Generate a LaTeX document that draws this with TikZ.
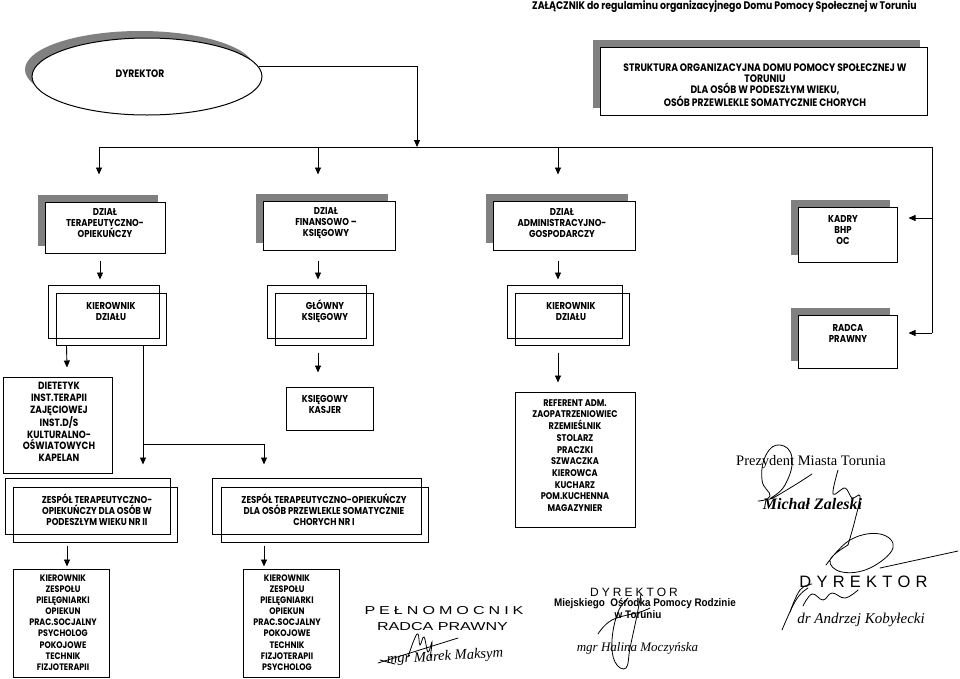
\documentclass[tikz,border=0pt]{standalone}
\usepackage{fontspec}
\setmainfont{Liberation Serif}
\newfontfamily\gothic{Poppins}[FakeStretch=0.85]
\newfontfamily\arial{Liberation Sans}
\newfontfamily\arialwide{Liberation Sans}[FakeStretch=1.4]
\newfontfamily\arialnarrow{Liberation Sans}[FakeStretch=0.9]
\usetikzlibrary{arrows.meta,shadows,calc,shapes.geometric}
\tikzset{
  bx/.style={draw, line width=1pt, inner sep=0pt, fill=white},
  shbox/.style={bx, drop shadow={shadow xshift=-7pt, shadow yshift=7pt, fill=black!50, opacity=1}},
  thinbx/.style={draw, line width=0.6pt},
  txt/.style={align=center, inner sep=0pt, font=\gothic\bfseries\fontsize{10}{11}\selectfont},
  lsttxt/.style={align=center, inner sep=0pt, font=\gothic\bfseries\fontsize{10.5}{11.7}\selectfont},
  reftxt/.style={align=center, inner sep=0pt, font=\gothic\bfseries\fontsize{9.7}{11.7}\selectfont},
  smalltxt/.style={align=center, inner sep=0pt, font=\gothic\bfseries\fontsize{9.4}{11.1}\selectfont},
  ln/.style={line width=0.9pt},
  arr/.style={ln, -{Triangle[length=7pt,width=6pt]}},
  sig/.style={line width=0.8pt, line cap=round},
}
\newcommand{\sps}{\hspace{5.2pt}}
\begin{document}
\begin{tikzpicture}[x=1pt,y=-1pt]
\useasboundingbox (0,0) rectangle (960,678);
% header
\node[inner sep=0pt, font=\gothic\bfseries\fontsize{11}{12}\selectfont] (hdr) at (724.5,7) {ZAŁĄCZNIK do regulaminu organizacyjnego Domu Pomocy Społecznej w Toruniu};
% director ellipse
\node[ellipse, draw, line width=1pt, fill=white, minimum width=230pt, minimum height=77pt, inner sep=0pt,
      drop shadow={shadow xshift=-7pt, shadow yshift=7pt, fill=black!50, opacity=1}] (dyr) at (147,76.5) {};
\node[txt, font=\gothic\bfseries\fontsize{10.8}{12}\selectfont] (dyrT) at (140,74) {DYREKTOR};
% title box
\node[shbox, minimum width=327pt, minimum height=68pt] (tb) at (763.5,81) {};
\node[txt, font=\gothic\bfseries\fontsize{10.8}{11}\selectfont] (tbT) at (765,85.5) {STRUKTURA ORGANIZACYJNA DOMU POMOCY SPOŁECZNEJ W\\TORUNIU\\DLA OSÓB W PODESZŁYM WIEKU,\\OSÓB PRZEWLEKLE SOMATYCZNIE CHORYCH};
% departments
\node[shbox, minimum width=120pt, minimum height=51pt] (d1) at (105,227.5) {};
\node[txt] (d1T) at (105,223.5) {DZIAŁ\\TERAPEUTYCZNO-\\OPIEKUŃCZY};
\node[shbox, minimum width=132pt, minimum height=49pt] (d2) at (329,225.5) {};
\node[txt] (d2T) at (326,223.5) {DZIAŁ\\FINANSOWO –\\KSIĘGOWY};
\node[shbox, minimum width=142pt, minimum height=49pt] (d3) at (564,225.5) {};
\node[txt] (d3T) at (562,223.5) {DZIAŁ\\ADMINISTRACYJNO-\\GOSPODARCZY};
\node[shbox, minimum width=99pt, minimum height=55pt] (kadry) at (847.5,234.5) {};
\node[txt] (kadryT) at (843,230) {KADRY\\BHP\\OC};
\node[shbox, minimum width=99pt, minimum height=53pt] (radca) at (847.5,341.5) {};
\node[txt] (radcaT) at (848,333) {RADCA\\PRAWNY};
% kierownik double boxes
\node[bx, fill=none, minimum width=110pt, minimum height=52pt] (k1) at (111,319) {};
\draw[thinbx] ($(k1.south west)+(-7,-7)$) rectangle ($(k1.north east)+(-7,-7)$);
\node[txt] (k1T) at (111,311) {KIEROWNIK\\DZIAŁU};
\node[bx, fill=none, minimum width=98pt, minimum height=52pt] (gk) at (324,319) {};
\draw[thinbx] ($(gk.south west)+(-7,-7)$) rectangle ($(gk.north east)+(-7,-7)$);
\node[txt] (gkT) at (325,311) {GŁÓWNY\\KSIĘGOWY};
\node[bx, fill=none, minimum width=114pt, minimum height=52pt] (k3) at (572,319) {};
\draw[thinbx] ($(k3.south west)+(-7,-7)$) rectangle ($(k3.north east)+(-7,-7)$);
\node[txt] (k3T) at (571,311) {KIEROWNIK\\DZIAŁU};
% lists
\node[bx, minimum width=109pt, minimum height=96pt] (diet) at (57.5,425) {};
\node[lsttxt] (dietT) at (59,422) {DIETETYK\\INST.TERAPII\\ZAJĘCIOWEJ\\INST.D/S\\KULTURALNO-\\OŚWIATOWYCH\\KAPELAN};
\node[bx, minimum width=87pt, minimum height=43pt] (kas) at (329.5,408.5) {};
\node[txt] (kasT) at (325,404) {KSIĘGOWY\\KASJER};
\node[bx, minimum width=120pt, minimum height=135pt] (ref) at (575,459.5) {};
\node[reftxt] (refT) at (575,455.5) {REFERENT ADM.\\ZAOPATRZENIOWIEC\\RZEMIEŚLNIK\\STOLARZ\\PRACZKI\\SZWACZKA\\KIEROWCA\\KUCHARZ\\POM.KUCHENNA\\MAGAZYNIER};
% zespoly
\node[bx, fill=none, minimum width=164pt, minimum height=55pt] (z2) at (95,514.5) {};
\draw[thinbx] ($(z2.south west)+(-7,-8)$) rectangle ($(z2.north east)+(-7,-8)$);
\node[txt] (z2T) at (97,509.5) {ZESPÓŁ TERAPEUTYCZNO-\\OPIEKUŃCZY DLA OSÓB W\\PODESZŁYM WIEKU NR II};
\node[bx, fill=none, minimum width=207pt, minimum height=55pt] (z1) at (324.5,514.5) {};
\draw[thinbx] ($(z1.south west)+(-8,-8)$) rectangle ($(z1.north east)+(-7,-8)$);
\node[txt] (z1T) at (324,509.5) {ZESPÓŁ TERAPEUTYCZNO-OPIEKUŃCZY\\DLA OSÓB PRZEWLEKLE SOMATYCZNIE\\CHORYCH NR I};
% bottom lists
\node[bx, minimum width=96pt, minimum height=108pt] (l2) at (61,623) {};
\node[smalltxt] (l2T) at (63,622.5) {KIEROWNIK\\ZESPOŁU\\PIELĘGNIARKI\\OPIEKUN\\PRAC.SOCJALNY\\PSYCHOLOG\\POKOJOWE\\TECHNIK\\FIZJOTERAPII};
\node[bx, minimum width=96pt, minimum height=108pt] (l1) at (291,623) {};
\node[smalltxt] (l1T) at (287,622.5) {KIEROWNIK\\ZESPOŁU\\PIELĘGNIARKI\\OPIEKUN\\PRAC.SOCJALNY\\POKOJOWE\\TECHNIK\\FIZJOTERAPII\\PSYCHOLOG};
% connectors
\coordinate (busL) at (99,147);
\coordinate (busM) at (417,147);
\coordinate (busR) at (932,147);
\draw[arr] (dyr.5) -| (busM);
\draw[ln] (busL) -- (busR);
\draw[arr] (busL) -- ($(d1.north)+(-6,-27)$);
\draw[arr] ($(busL -| d2.north)+(-11,0)$) -- ($(d2.north)+(-11,-26)$);
\draw[arr] ($(busL -| d3.north)+(-6,0)$) -- ($(d3.north)+(-6,-26)$);
\draw[ln] (busR) -- (busR |- radcaT);
\draw[arr] ($(busR |- kadryT)+(0,-12)$) -- ($(kadry.east)+(11,-16.5)$);
\draw[arr] (busR |- radcaT) -- ($(radca.east |- radcaT)+(11,0)$);
\draw[arr] ($(d1.south)+(-5,7)$) -- ($(k1.north)+(-11,-13)$);
\draw[arr] ($(d2.south)+(-11,10)$) -- ($(gk.north)+(-6,-13)$);
\draw[arr] ($(d3.south)+(-6,10)$) -- ($(k3.north)+(-14,-13)$);
\draw[arr] ($(k1.south west)+(11,0)$) -- ($(diet.north)+(9.5,-9)$);
\draw[arr] ($(k1.south)+(32,0)$) -- ($(z2.north)+(48,-22)$);
\coordinate (br) at ($(k1.south)+(32,99)$);
\draw[arr] (br) -| ($(z1.north)+(-60.5,-22)$);
\draw[arr] ($(gk.south)+(-6,7)$) -- ($(kas.north)+(-11.5,-14)$);
\draw[arr] ($(k3.south)+(-14,7)$) -- ($(ref.north)+(-17,-9)$);
\draw[arr] ($(z2.south)+(-28,3)$) -- ($(l2.north)+(6,-2)$);
\draw[arr] ($(z1.south)+(-60.5,3)$) -- ($(l1.north)+(-27,-2)$);
% Prezydent
\node[inner sep=0pt, font=\fontsize{14.5}{16}\selectfont] (prez) at (811,462) {Prezydent Miasta Torunia};
\node[inner sep=0pt, font=\bfseries\itshape\fontsize{16}{18}\selectfont] (zal) at (812.5,504) {Michał Zaleski};
\draw[sig] plot[smooth, tension=0.8] coordinates {(758,501) (770,496) (762,480) (766,455) (780,445) (792,458) (785,485) (770,499) (790,488) (812,474)};
\draw[sig] plot[smooth, tension=0.6] coordinates {(838,470) (833,494) (845,488) (852,498) (860,496) (855,520) (848,545)};
\draw[sig] plot[smooth, tension=0.7] coordinates {(848,545) (830,560) (842,572) (870,568) (893,548) (880,534) (850,540) (826,565)};
\draw[sig] (880,568) -- (958,551);
\draw[sig] plot[smooth, tension=0.7] coordinates {(790,612) (800,590) (812,584)};
\draw[sig] plot[smooth, tension=0.7] coordinates {(782,630) (796,600) (808,588)};
\draw[sig] plot[smooth, tension=0.7] coordinates {(803,606) (812,594) (823,600) (832,593) (845,598) (858,590)};
% Dyrektor right
\node[inner sep=0pt, font=\arial\fontsize{16.5}{18}\selectfont] (dyr2) at (863.5,582) {D\sps Y\sps R\sps E\sps K\sps T\sps O\sps R};
\node[inner sep=0pt, font=\itshape\fontsize{15}{17}\selectfont] (kob) at (861,620) {dr Andrzej Kobyłecki};
% Dyrektor MOPR
\node[inner sep=0pt, font=\arial\fontsize{12}{14}\selectfont] (dyr3) at (634,592) {D\hspace{3pt}Y\hspace{3pt}R\hspace{3pt}E\hspace{3pt}K\hspace{3pt}T\hspace{3pt}O\hspace{3pt}R};
\node[inner sep=0pt, font=\arialnarrow\bfseries\fontsize{11}{12}\selectfont] (mopr) at (645,604) {Miejskiego\ \ Ośrodka Pomocy Rodzinie};
\node[inner sep=0pt, font=\arialnarrow\bfseries\fontsize{11}{12}\selectfont] (torun) at (638,615) {w Toruniu};
\node[inner sep=0pt, font=\itshape\fontsize{13}{15}\selectfont] (hal) at (637.5,648) {mgr Halina Moczyńska};
\draw[sig] plot[smooth, tension=0.7] coordinates {(641,594) (636,620) (630,648) (626,668) (615,662) (612,640) (618,612) (628,598)};
\draw[sig] plot[smooth, tension=0.7] coordinates {(598,634) (612,620) (640,612) (650,608)};
% Radca stamp
\node[inner sep=0pt, font=\arialwide\fontsize{11.5}{13}\selectfont] (pel) at (444,611) {P\hspace{4pt}E\hspace{4pt}Ł\hspace{4pt}N\hspace{4pt}O\hspace{4pt}M\hspace{4pt}O\hspace{4pt}C\hspace{4pt}N\hspace{4pt}I\hspace{4pt}K};
\node[inner sep=0pt, font=\arialwide\fontsize{11.5}{13}\selectfont] (rad) at (442.5,627) {RADCA PRAWNY};
\node[inner sep=0pt, rotate=3, font=\itshape\fontsize{14.5}{16}\selectfont] (mak) at (445,657) {mgr Marek Maksym};
\draw[sig] plot[smooth, tension=0.7] coordinates {(408,657) (414,640) (418,634) (420,645) (424,637) (428,652) (432,642) (430,658)};
\draw[sig] (378,663) -- (458,638);
\draw[sig] (380,660) -- (395,664);
\end{tikzpicture}
\end{document}
